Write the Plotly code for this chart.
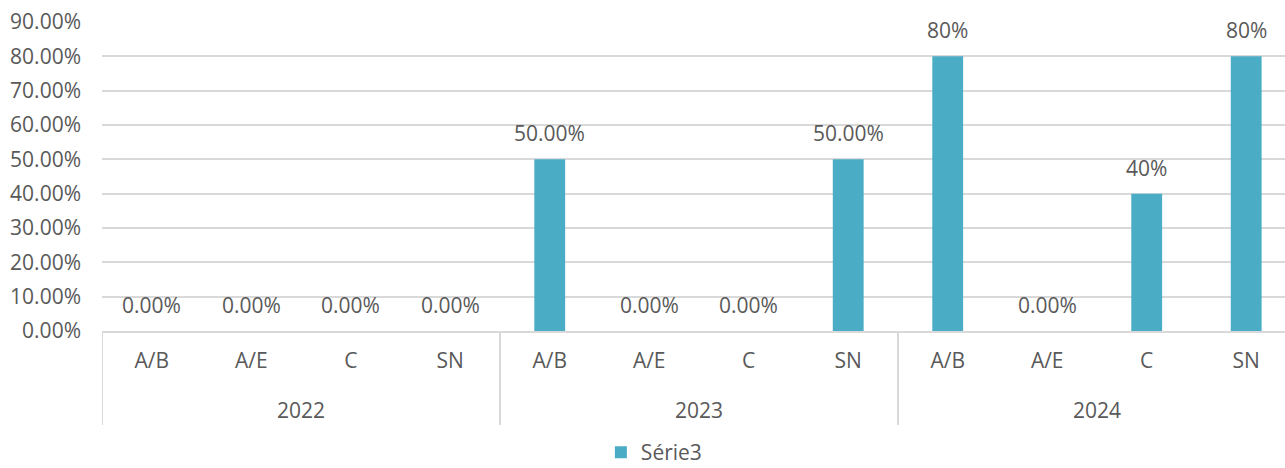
import plotly.graph_objects as go

years = ["2022"] * 4 + ["2023"] * 4 + ["2024"] * 4
groups = ["A/B", "A/E", "C", "SN"] * 3
values = [0, 0, 0, 0, 0.5, 0, 0, 0.5, 0.8, 0, 0.4, 0.8]
labels = ["0.00%", "0.00%", "0.00%", "0.00%", "50.00%", "0.00%", "0.00%", "50.00%",
          "80%", "0.00%", "40%", "80%"]
y_ticks = [i / 10 for i in range(10)]
y_tick_text = [f"{v*100:.2f}%" for v in y_ticks]

BAR = "#4BACC6"
TXT = "#595959"
GRID = "#D9D9D9"
FONT = "Open Sans"
FS = 21

x_pos = list(range(len(groups)))

fig = go.Figure()
fig.add_trace(go.Bar(
    x=x_pos, y=values, name="Série3",
    marker=dict(color=BAR, line=dict(width=0)), width=0.31,
    hoverinfo="skip",
))

# data labels
for xi, v, lab in zip(x_pos, values, labels):
    fig.add_annotation(x=xi, y=v, xref="x", yref="y", text=lab, showarrow=False,
                       yanchor="middle", yshift=26,
                       font=dict(family=FONT, size=FS, color=TXT))

# year group labels and dividers
unique_years = []
for y in years:
    if y not in unique_years:
        unique_years.append(y)
for yr in unique_years:
    idx = [i for i, y in enumerate(years) if y == yr]
    center = sum(idx) / len(idx)
    fig.add_annotation(x=center, y=-0.2557, xref="x", yref="paper", text=yr,
                       showarrow=False, yanchor="middle",
                       font=dict(family=FONT, size=FS, color=TXT))
    fig.add_shape(type="line", x0=idx[0] - 0.5, x1=idx[0] - 0.5, y0=0, y1=-0.304,
                  xref="x", yref="paper", line=dict(color=GRID, width=2))

fig.update_layout(
    width=1285, height=468,
    margin=dict(l=102, r=0, t=22, b=137, autoexpand=False),
    paper_bgcolor="white", plot_bgcolor="white",
    font=dict(family=FONT, size=FS, color=TXT),
    bargap=0.69,
    showlegend=True,
    legend=dict(orientation="h", x=0.4665, xanchor="center", y=-0.4596, yanchor="bottom",
                font=dict(family=FONT, size=FS, color=TXT), itemwidth=30,
                tracegroupgap=0),
    xaxis=dict(
        range=[-0.5, 11.39], tickvals=x_pos, ticktext=groups,
        showline=True, linecolor=GRID, linewidth=2,
        tickfont=dict(family=FONT, size=FS, color=TXT),
        showgrid=False, ticks="", zeroline=False, automargin=False,
        ticklabelstandoff=10,
    ),
    yaxis=dict(
        range=[0, 0.9], tickvals=y_ticks, ticktext=y_tick_text,
        showgrid=True, gridcolor=GRID, gridwidth=2,
        zeroline=False, showline=False, ticks="", automargin=False,
        tickfont=dict(family=FONT, size=FS, color=TXT),
        ticklabelstandoff=20,
    ),
)

fig.write_html("out.html")
